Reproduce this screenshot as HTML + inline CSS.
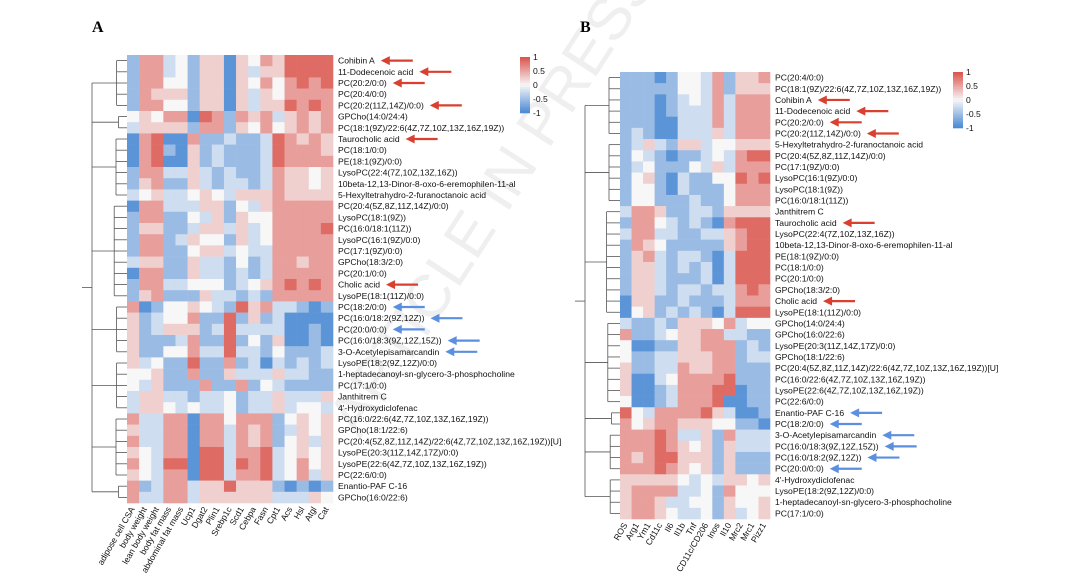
<!DOCTYPE html>
<html><head><meta charset="utf-8"><style>
html,body{margin:0;padding:0;background:#fff;}
svg{display:block;font-family:"Liberation Sans",sans-serif;}
</style></head><body>
<svg id="chart" width="1080" height="584" viewBox="0 0 1080 584" xmlns="http://www.w3.org/2000/svg">
<text x="360" y="440" font-size="60" fill="#efefef" transform="rotate(-57 360 440)" font-family="Liberation Sans">ARTICLE IN PRESS</text>
<text x="92" y="32" font-size="16" font-weight="bold" font-family="Liberation Serif">A</text>
<text x="580" y="32" font-size="16" font-weight="bold" font-family="Liberation Serif">B</text>
<g id="gA"></g><g id="gB"></g>
</svg>
<script>
const colsA=["adipose cell CSA","body weight","lean body weight","body fat mass","abdominal fat mass","Ucp1","Dgat2","Plin1","Srebp1c","Scd1","Cebpa","Fasn","Cpt1","Acs","Hsl","Atgl","Cat"];
const rowsA=["Cohibin A","11-Dodecenoic acid","PC(20:2/0:0)","PC(20:4/0:0)","PC(20:2(11Z,14Z)/0:0)","GPCho(14:0/24:4)","PC(18:1(9Z)/22:6(4Z,7Z,10Z,13Z,16Z,19Z))","Taurocholic acid","PC(18:1/0:0)","PE(18:1(9Z)/0:0)","LysoPC(22:4(7Z,10Z,13Z,16Z))","10beta-12,13-Dinor-8-oxo-6-eremophilen-11-al","5-Hexyltetrahydro-2-furanoctanoic acid","PC(20:4(5Z,8Z,11Z,14Z)/0:0)","LysoPC(18:1(9Z))","PC(16:0/18:1(11Z))","LysoPC(16:1(9Z)/0:0)","PC(17:1(9Z)/0:0)","GPCho(18:3/2:0)","PC(20:1/0:0)","Cholic acid","LysoPE(18:1(11Z)/0:0)","PC(18:2/0:0)","PC(16:0/18:2(9Z,12Z))","PC(20:0/0:0)","PC(16:0/18:3(9Z,12Z,15Z))","3-O-Acetylepisamarcandin","LysoPE(18:2(9Z,12Z)/0:0)","1-heptadecanoyl-sn-glycero-3-phosphocholine","PC(17:1/0:0)","Janthitrem C","4'-Hydroxydiclofenac","PC(16:0/22:6(4Z,7Z,10Z,13Z,16Z,19Z))","GPCho(18:1/22:6)","PC(20:4(5Z,8Z,11Z,14Z)/22:6(4Z,7Z,10Z,13Z,16Z,19Z))[U]","LysoPE(20:3(11Z,14Z,17Z)/0:0)","LysoPE(22:6(4Z,7Z,10Z,13Z,16Z,19Z))","PC(22:6/0:0)","Enantio-PAF C-16","GPCho(16:0/22:6)"];
const valsA=["lrrbwlppBpwrpRRRR","lrrbwlppBpbppRRRR","lrrwwlppBpwrwrRrR","lrppplppBpbpwrrrr","lrrwwlppBpbppRrRr","wpwrrBRrlrprbprpr","bpppplrrlpwrwprpr","BrRBBrllbllbRrprp","BrRlBplblllbRrrrp","BrRBBplblllbRrrrr","lrrbbpblbllbrppwp","lprllpblbblbrppwp","bwpbbwpwbppprpppp","Brrbbbpplwbprrrrr","lrrllwbplpwwrrrrr","lppllbppbpbwrrrrR","lrrlbpwwlpbwrrrrr","lrrllwppbwbbrrrrr","bppllpbblwlbrrprr","Brrllpbblblbrrrrr","lrrbbwwwlbwprRrRr","lprlllpbblblrrrrr","rBlwwpwblRprbblBl","plbwwrllRlplbBBBB","plbppplbRbbbbBBlB","plllbrllRlwlpBBlB","pllwwrbbRbblwlllb","pbwllRllrlbBblblb","wwpllrllpbbbpbbll","wbplllrllrlwbllll","bppbblbbwlbbpbbbp","bppwbwbbwlbbpbwwb","rbbrrBrrwrrrlwpwp","pbbrrBrrbrprlbpwp","rbbrrBrrbrprlwpbp","pwbrrBRRbrrRbwpwp","rwbRRBRRbRrRbwrwp","pwbrrBRRbrrRbwrbp","rlbrrbppRppplBlBl","rbbrrbppppppbbbpw"];
const colsB=["ROS","Arg1","Ym1","Cd11c","Il6","Il1b","Tnf","CD11c/CD206","Inos","Il10","Mrc2","Mrc1","Pizz1"];
const rowsB=["PC(20:4/0:0)","PC(18:1(9Z)/22:6(4Z,7Z,10Z,13Z,16Z,19Z))","Cohibin A","11-Dodecenoic acid","PC(20:2/0:0)","PC(20:2(11Z,14Z)/0:0)","5-Hexyltetrahydro-2-furanoctanoic acid","PC(20:4(5Z,8Z,11Z,14Z)/0:0)","PC(17:1(9Z)/0:0)","LysoPC(16:1(9Z)/0:0)","LysoPC(18:1(9Z))","PC(16:0/18:1(11Z))","Janthitrem C","Taurocholic acid","LysoPC(22:4(7Z,10Z,13Z,16Z))","10beta-12,13-Dinor-8-oxo-6-eremophilen-11-al","PE(18:1(9Z)/0:0)","PC(18:1/0:0)","PC(20:1/0:0)","GPCho(18:3/2:0)","Cholic acid","LysoPE(18:1(11Z)/0:0)","GPCho(14:0/24:4)","GPCho(16:0/22:6)","LysoPE(20:3(11Z,14Z,17Z)/0:0)","GPCho(18:1/22:6)","PC(20:4(5Z,8Z,11Z,14Z)/22:6(4Z,7Z,10Z,13Z,16Z,19Z))[U]","PC(16:0/22:6(4Z,7Z,10Z,13Z,16Z,19Z))","LysoPE(22:6(4Z,7Z,10Z,13Z,16Z,19Z))","PC(22:6/0:0)","Enantio-PAF C-16","PC(18:2/0:0)","3-O-Acetylepisamarcandin","PC(16:0/18:3(9Z,12Z,15Z))","PC(16:0/18:2(9Z,12Z))","PC(20:0/0:0)","4'-Hydroxydiclofenac","LysoPE(18:2(9Z,12Z)/0:0)","1-heptadecanoyl-sn-glycero-3-phosphocholine","PC(17:1/0:0)"];
const valsB=["lllBlwwbrlppr","lllllwwbrlppp","lllBlbwbrbrrr","lllBlbbbrbrrr","lllBBbbbrbrrr","lblBBbbbpbrrr","lbpblppbwwppp","lwblBllbwbrRR","lbwlllwbpbrrr","lwplBbllwwRrR","lwwlBblllwrrr","lwwlllbllwrrr","brrpllbblpppp","lrrwblblBrRRR","brrbbllbbprRR","lrpwlllllprRR","lprblbblBbRRR","lppblblbBbRRR","lppblllbBbRRR","lppblbblbbrRr","Bppllblllbrrr","BwplblblBbRRR","bllblpppwrbww","rllbwpprrbbll","wBBllpprrrlbl","wllbbppprrlbb","pllbbrpprrlll","pBBbwrrrrRlll","pBBlbrrrRRBll","wBBlbrrrRBBll","RwbrrrrRpbBBl","rwprrpppwwllB","rrrRrbbplrbbb","rrrRrpwplpbbb","rprRRppplplll","rrrRrpwplplll","pppppwbwbppwp","prrrrbbwlrwww","prrpbbwwlpwwp","prrpwbbwlpbwp"];
const arrowsA=[[0,"r"],[1,"r"],[2,"r"],[4,"r"],[7,"r"],[20,"r"],[22,"b"],[23,"b"],[24,"b"],[25,"b"],[26,"b"]];
const arrowsB=[[2,"r"],[3,"r"],[4,"r"],[5,"r"],[13,"r"],[20,"r"],[30,"b"],[31,"b"],[32,"b"],[33,"b"],[34,"b"],[35,"b"]];
const codeVal={R:0.72,r:0.45,p:0.2,w:0,b:-0.2,l:-0.45,B:-0.75};
const NS="http://www.w3.org/2000/svg";
function color(v){const r1=[214,52,44],w=[247,247,247],b1=[40,115,205];const t=Math.abs(v),c=v>=0?r1:b1;
return "rgb("+w.map((x,i)=>Math.round(x+(c[i]-x)*t)).join(",")+")";}
function el(tag,attrs,parent){const e=document.createElementNS(NS,tag);for(const k in attrs)e.setAttribute(k,attrs[k]);parent.appendChild(e);return e;}
function panel(g,cfg){
 const {cols,rows,vals,x0,x1,y0,y1,arrows,cbx,cby}=cfg;
 const cw=(x1-x0)/cols.length,rh=(y1-y0)/rows.length;
 const labels=[];
 rows.forEach((rn,i)=>{
  for(let j=0;j<cols.length;j++){
   const v=codeVal[vals[i][j]]||0;
   const r=el("rect",{x:x0+j*cw,y:y0+i*rh,width:cw+0.3,height:rh+0.3,fill:color(v)},g);
   
   
  }
  const t=el("text",{x:x1+5,y:y0+i*rh+rh/2+3,"font-size":8.6,fill:"#111"},g);
  t.textContent=rn;
  
  
  labels.push(t);
 });
 cols.forEach((cn,j)=>{
  const cx=x0+j*cw+cw/2+2,cy=y1+6;
  const t=el("text",{x:cx,y:cy,"font-size":8.6,"text-anchor":"end",fill:"#111",transform:"rotate(-60 "+cx+" "+cy+")"},g);
  t.textContent=cn;
  
  
 });
 arrows.forEach(([i,c])=>{
  const len=labels[i].getComputedTextLength();
  const ax=x1+5+len+6,ay=y0+i*rh+rh/2;
  const col=c==="r"?"#d9402f":"#5b8fe0";
  const a=el("g",{},g);
  
  
  el("line",{x1:ax+6,y1:ay,x2:ax+32,y2:ay,stroke:col,"stroke-width":2.2},a);
  el("polygon",{points:(ax)+","+ay+" "+(ax+9)+","+(ay-4.5)+" "+(ax+9)+","+(ay+4.5),fill:col},a);
 });
 const d=el("g",{stroke:"#555","stroke-width":0.8,fill:"none"},g);
 
 
 let mids=[];
 cfg.groups.forEach(([s,e])=>{
  const yc=[];for(let i=s;i<=e;i++)yc.push(y0+i*rh+rh/2);
  const lx=x0-8-(e-s)*0.6;
  yc.forEach(y=>el("line",{x1:lx,y1:y,x2:x0,y2:y},d));
  el("line",{x1:lx,y1:yc[0],x2:lx,y2:yc[yc.length-1]},d);
  mids.push([lx,(yc[0]+yc[yc.length-1])/2]);
 });
 const bx=x0-45;
 mids.forEach(([lx,y])=>el("line",{x1:bx+10,y1:y,x2:lx,y2:y},d));
 el("line",{x1:bx+10,y1:mids[0][1],x2:bx+10,y2:mids[mids.length-1][1]},d);
 el("line",{x1:bx,y1:(mids[0][1]+mids[mids.length-1][1])/2,x2:bx+10,y2:(mids[0][1]+mids[mids.length-1][1])/2},d);
 const cb=el("g",{},g);
 
 
 const n=30,h=56;
 for(let k=0;k<n;k++){el("rect",{x:cbx,y:cby+k*h/n,width:10,height:h/n+0.3,fill:color(0.85*(1-2*(k+0.5)/n))},cb);}
 ["1","0.5","0","-0.5","-1"].forEach((s,k)=>{const t=el("text",{x:cbx+13,y:cby+k*h/4+3,"font-size":8.6,fill:"#111"},cb);t.textContent=s;});
}
panel(document.getElementById("gA"),{cols:colsA,rows:rowsA,vals:valsA,x0:127,x1:333,y0:55,y1:503,arrows:arrowsA,cbx:520,cby:57,
 groups:[[0,4],[5,6],[7,12],[13,21],[22,26],[27,31],[32,37],[38,39]]});
panel(document.getElementById("gB"),{cols:colsB,rows:rowsB,vals:valsB,x0:620,x1:770,y0:72,y1:519,arrows:arrowsB,cbx:953,cby:72,
 groups:[[0,5],[6,11],[12,21],[22,29],[30,31],[32,35],[36,39]]});
</script>
</body></html>
